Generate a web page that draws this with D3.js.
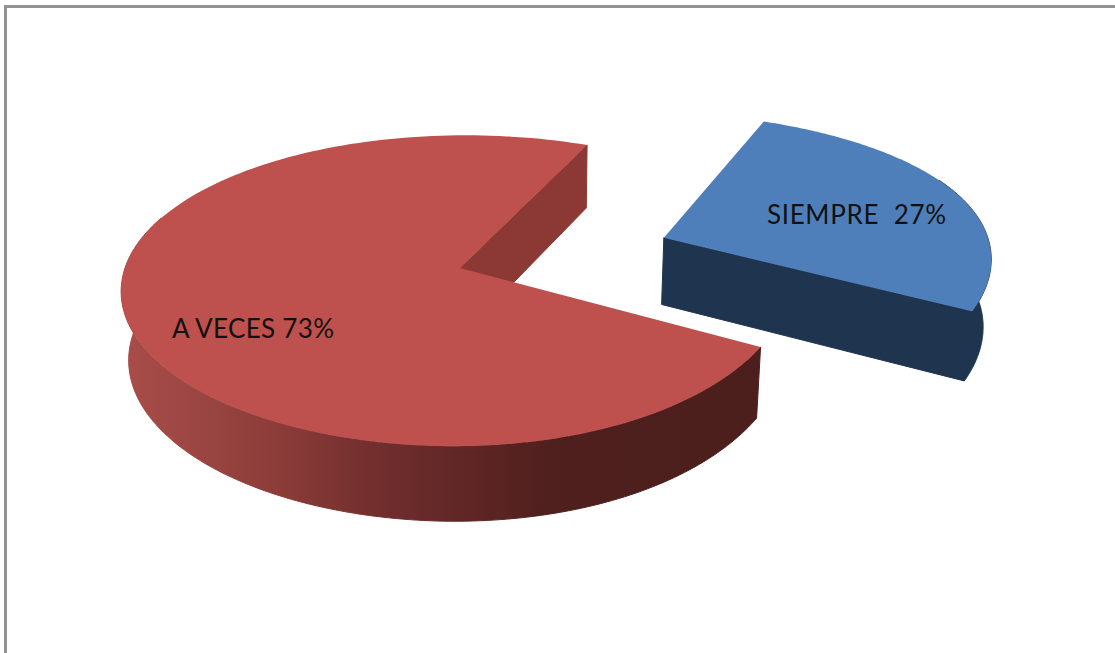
<!DOCTYPE html>
<html><head><meta charset="utf-8">
<script src="https://cdn.jsdelivr.net/npm/d3@7"></script>
<style>html,body{margin:0;padding:0;background:#fff;overflow:hidden}svg{display:block}</style>
</head><body><svg id="c" width="1115" height="653"></svg>
<script>
const categories = ["SIEMPRE", "A VECES"];
const values = [27, 73];
const labels = ["SIEMPRE  27%", "A VECES 73%"];
const topColors = ["#4f7fba", "#be504d"];
const wallColors = ["#1f344e", "#8c3936"];
const explode = [0.66, 0];
const W = 1115, H = 653;

const svg = d3.select("#c");
const deg = d3.scaleLinear().domain([0, 360]).range([0, 2 * Math.PI]);
const pie = d3.pie().sort(null).startAngle(deg(25.8)).endAngle(deg(25.8 + 360));
const arcs = pie(values);

// perspective projection of the pie's ground plane
const X0 = 460, Y0 = 268, A = 335, B = 152, K = 0.151;
const project = (u, v) => {
  const d = 1 - K * v;
  return [X0 + A * u / d, Y0 + B * v / d];
};
const lower = ([x, y]) => [x - (x - 540) * 0.018, 1.04 * y + 57.2];

// the rim of the reference is pulled in on its right-hand side
const bell = t => {
  const d = (((t - deg(100)) % (2 * Math.PI)) + 3 * Math.PI) % (2 * Math.PI) - Math.PI;
  const s = d < 0 ? deg(40) : deg(34);
  return Math.exp(-(d * d) / (2 * s * s));
};
const rim = (a0, a1, off) => d3.range(0, 161).map(i => {
  const t = a0 + (a1 - a0) * i / 160;
  const [x, y] = project(off[0] + Math.sin(t), off[1] - Math.cos(t));
  const b = bell(t);
  return [x - 7 * b, y - 14 * b];
});
const line = d3.line();

const defs = svg.append("defs");
const grad = defs.append("linearGradient").attr("id", "redWall")
  .attr("gradientUnits", "userSpaceOnUse").attr("x1", 127).attr("x2", 762).attr("y1", 0).attr("y2", 0);
[[0, "#a84c49"], [0.12, "#9a4541"], [0.25, "#8a3b38"], [0.36, "#763130"], [0.5, "#632827"], [0.68, "#4e1f1d"], [1, "#4c1e1c"]]
  .forEach(([o, c]) => grad.append("stop").attr("offset", o).attr("stop-color", c));

// frame
svg.append("path").attr("d", "M5.5,653V6.5H1115").attr("fill", "none").attr("stroke", "#929292").attr("stroke-width", 3);

const g = svg.append("g");
// red slice first, blue slice afterwards
[1, 0].forEach(i => {
  const a = arcs[i];
  const dir = (a.startAngle + a.endAngle) / 2 - deg(2.5);
  const off = [explode[i] * Math.sin(dir), -explode[i] * Math.cos(dir)];
  const apex = project(off[0], off[1]);
  const outer = rim(a.startAngle, a.endAngle, off);
  const last = outer[outer.length - 1];
  if (i === 1) {
    const front = rim(a.startAngle, deg(290), off);
    g.append("path").attr("d", line(front.concat(front.map(lower).reverse())) + "Z")
      .attr("fill", "url(#redWall)").attr("stroke", "url(#redWall)").attr("stroke-width", 1);
    g.append("path").attr("d", line([apex, last, lower(last), lower(apex)]) + "Z")
      .attr("fill", wallColors[i]).attr("stroke", wallColors[i]).attr("stroke-width", 1);
  } else {
    // one outline for the outer wall and the cut edge that faces the viewer
    const rimPart = rim(deg(70), a.endAngle, off);
    const shape = [apex].concat(rimPart, rimPart.map(lower).reverse());
    const cut = [apex, rimPart[rimPart.length - 1], lower(rimPart[rimPart.length - 1]), lower(apex)];
    g.append("path").attr("d", line(shape) + "Z" + line(cut) + "Z")
      .attr("fill", wallColors[i]).attr("stroke", wallColors[i]).attr("stroke-width", 1).attr("fill-rule", "nonzero");
  }
  g.append("path").attr("d", line([apex].concat(outer)) + "Z").attr("fill", topColors[i]);
});

// labels
const labelPos = [[767, 224], [172, 338]];
const labelWidth = [179, 162];
labels.forEach((t, i) => {
  svg.append("text").attr("x", labelPos[i][0]).attr("y", labelPos[i][1])
    .attr("font-family", "Lato, 'Open Sans', sans-serif").attr("font-size", 26)
    .attr("textLength", labelWidth[i]).attr("lengthAdjust", "spacing")
    .attr("fill", "#111").style("white-space", "pre").text(t);
});
</script></body></html>
